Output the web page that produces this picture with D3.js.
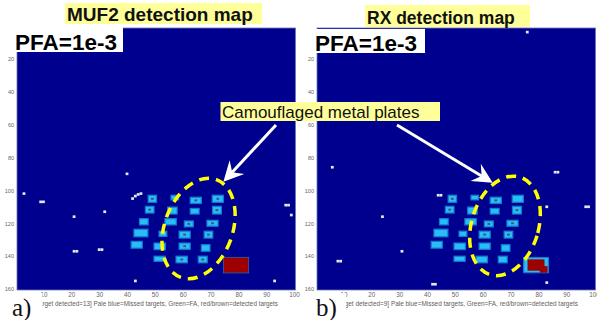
<!DOCTYPE html>
<html>
<head>
<meta charset="utf-8">
<script src="https://cdn.jsdelivr.net/npm/d3@7/dist/d3.min.js"></script>
<style>
  body { margin: 0; background: #fff; }
  svg { display: block; font-family: Arial, "Liberation Sans", sans-serif; }
</style>
</head>
<body>
<svg id="chart" width="597" height="320"></svg>
<script>
// ---- data ----
const panelLetters = ['a)', 'b)'];
const titles = ['MUF2 detection map', 'RX detection map'];
const pfaLabels = ['PFA=1e-3', 'PFA=1e-3'];
const detectedCounts = [13, 9];
const xTicks = [10, 20, 30, 40, 50, 60, 70, 80, 90, 100];
const yTicks = [20, 40, 60, 80, 100, 120, 140, 160];
const calloutText = 'Camouflaged metal plates';

// ground truth plates [col0, col1, row0, row1] (map pixel edges)
const plates = [
  [47.6, 50.6, 103, 107.3], [55.8, 58.5, 103, 105.8], [62.7, 66.7, 104.2, 108], [70.6, 74.6, 103, 107.3],
  [46.6, 49.7, 109.7, 113.8], [54.6, 58, 110.2, 114.4], [62.7, 65.9, 111, 114.4], [70.7, 73.9, 109.7, 114.4],
  [44.5, 47.6, 117.2, 121], [53.6, 57.7, 117.2, 121], [60.6, 63.8, 118.6, 122.2], [68.7, 72.7, 118.2, 121.8],
  [42.5, 47.5, 123.6, 128.2], [51.5, 54.3, 124.8, 128], [58.7, 62.7, 124.8, 129], [67.7, 70.8, 124.8, 129],
  [41.5, 45.5, 131, 135.1], [49.7, 53.8, 132, 136], [58.7, 62.7, 132, 135.8], [66.7, 69.8, 133, 137],
  [49.7, 53.7, 140, 143.1], [57.6, 61.7, 140, 144], [65.6, 68.8, 140, 144]
];
const bigTarget = [74.7, 83.6, 140.8, 150];

// plates with a detected pixel in their centre, per map
const detectedPlates = [
  [0, 2, 3, 4, 7, 10, 11, 14, 15, 18, 21, 22],
  [0, 2, 4, 7, 10, 11, 14, 15]
];
// detected (red/brown) regions of the large target
const detectedRegions = [
  [[74.7, 83.6, 140.8, 150]],
  [[76.1, 82.2, 141.9, 148.8], [80.5, 83.3, 146, 150]]
];
// false alarm pixels [col, row]
const falseAlarms = [
  [[3, 102], [9, 107], [10, 107], [21, 116], [32, 113], [21, 137], [22, 137], [30, 136], [31, 136],
   [40, 90], [42, 105], [43, 103.5], [44, 102.5], [45, 102], [43, 155], [93, 155], [97, 109], [98, 109], [99, 115]],
  [[6, 86], [86, 89], [87, 89], [44, 103], [45, 103], [83, 110], [97, 110], [98, 110], [24, 116],
   [31, 137], [8, 143], [9, 143], [42, 157], [43, 157], [83, 156], [76, 4]]
];

// ---- layout ----
const MAP_BG = '#00008e';
const PLATE_COLOR = '#27bdf6';
const PLATE_EDGE = '#1579d2';
const DETECT_COLOR = '#9c0000';
const DOT_COLOR = '#4a4f78';
const FA_COLOR = '#e6e9f0';
const TITLE_BG = '#ffff99';

const panelLeft = [17, 317];
const panelWidth = 278.5;
const plotTop = 28;
const plotBottom = 290;

const svg = d3.select('#chart');

const ellipses = [
  { c: [65.7, 123.2], rx: 34, ry: 52, angle: 20 },
  { c: [68, 121.6], rx: 33.5, ry: 51, angle: 17 }
];
const arrowTips = [[74.6, 94.8], [63.6, 95.4]];
const arrowTails = [[276, 125], [397, 125]];

const scales = [];

function drawPanel(i) {
  const x = d3.scaleLinear().domain([0.5, 100.5]).range([panelLeft[i], panelLeft[i] + panelWidth]);
  const y = d3.scaleLinear().domain([1.5, 160.5]).range([plotTop, plotBottom]);
  scales.push({ x, y });

  const g = svg.append('g');

  g.append('rect')
    .attr('x', x(0.5))
    .attr('y', y(1.5))
    .attr('width', x(100.5) - x(0.5))
    .attr('height', y(160.5) - y(1.5))
    .attr('fill', MAP_BG)
    .attr('stroke', '#6f76b4')
    .attr('stroke-width', 0.8);

  const box = (sel) => sel
    .attr('x', d => x(d[0]))
    .attr('y', d => y(d[2]))
    .attr('width', d => x(d[1]) - x(d[0]))
    .attr('height', d => y(d[3]) - y(d[2]));

  // missed targets (pale blue)
  g.selectAll('.plate')
    .data(plates.concat([bigTarget]))
    .join('rect')
    .attr('class', 'plate')
    .call(box)
    .attr('fill', PLATE_COLOR)
    .attr('stroke', PLATE_EDGE)
    .attr('stroke-width', 1.2);

  // detected parts
  g.selectAll('.det')
    .data(detectedRegions[i])
    .join('rect')
    .attr('class', 'det')
    .call(box)
    .attr('fill', DETECT_COLOR);

  g.selectAll('.dot')
    .data(detectedPlates[i].map(k => plates[k]))
    .join('rect')
    .attr('class', 'dot')
    .attr('x', d => x((d[0] + d[1]) / 2 - 0.5))
    .attr('y', d => y((d[2] + d[3]) / 2 - 0.6))
    .attr('width', d => x(1) - x(0))
    .attr('height', d => y(1.2) - y(0))
    .attr('fill', DOT_COLOR);

  // false alarms
  g.selectAll('.fa')
    .data(falseAlarms[i])
    .join('rect')
    .attr('class', 'fa')
    .attr('x', d => x(d[0] - 0.5))
    .attr('y', d => y(d[1] - 0.8))
    .attr('width', x(1) - x(0))
    .attr('height', y(1.6) - y(0))
    .attr('fill', FA_COLOR);

  // axes
  g.append('g')
    .attr('transform', `translate(${x(0.5)},0)`)
    .call(d3.axisLeft(y).tickValues(yTicks).tickSize(0).tickPadding(3))
    .call(a => a.select('.domain').remove())
    .attr('font-size', 5.5)
    .attr('font-family', 'Arial, "Liberation Sans", sans-serif')
    .attr('color', '#666');

  g.append('g')
    .attr('transform', `translate(0,${plotBottom})`)
    .call(d3.axisBottom(x).tickValues(xTicks).tickSize(0).tickPadding(3))
    .call(a => a.select('.domain').remove())
    .attr('font-size', 6.3)
    .attr('font-family', 'Arial, "Liberation Sans", sans-serif')
    .attr('color', '#666');

  g.append('text')
    .attr('x', x(0.5) + 17)
    .attr('y', 306)
    .attr('font-size', 6.3)
    .attr('textLength', 244)
    .attr('lengthAdjust', 'spacingAndGlyphs')
    .attr('fill', '#5e5e5e')
    .text(`[Target detected=${detectedCounts[i]}] Pale blue=Missed targets, Green=FA, red/brown=detected targets`);

  // panel letter on white patch
  g.append('rect')
    .attr('x', panelLeft[i] - (i === 0 ? 17 : 5))
    .attr('y', 293)
    .attr('width', i === 0 ? 42.5 : 34)
    .attr('height', 27)
    .attr('fill', '#fff');

  g.append('text')
    .attr('x', panelLeft[i] + (i === 0 ? -5 : -1))
    .attr('y', 316)
    .attr('font-family', '"Liberation Serif", "Times New Roman", serif')
    .attr('font-size', 25)
    .attr('fill', '#111')
    .text(panelLetters[i]);

  // titles
  const tb = i === 0 ? { x: 65, y: 3, w: 197, h: 21, fs: 19, base: 21 } : { x: 365, y: 5, w: 165, h: 22, fs: 17.5, base: 24 };
  g.append('rect')
    .attr('x', tb.x).attr('y', tb.y)
    .attr('width', tb.w).attr('height', tb.h)
    .attr('fill', TITLE_BG);
  g.append('text')
    .attr('x', tb.x + 2)
    .attr('y', tb.base)
    .attr('font-weight', 'bold')
    .attr('font-size', tb.fs)
    .attr('fill', '#111')
    .text(titles[i]);

  // PFA label
  const pb = i === 0 ? { x: 13, y: 27, w: 110, h: 25, base: 50 } : { x: 313, y: 29, w: 112, h: 24, base: 51 };
  g.append('rect')
    .attr('x', pb.x).attr('y', pb.y)
    .attr('width', pb.w).attr('height', pb.h)
    .attr('fill', '#fff');
  g.append('text')
    .attr('x', pb.x + 2)
    .attr('y', pb.base)
    .attr('font-weight', 'bold')
    .attr('font-size', 22.5)
    .attr('fill', '#000')
    .text(pfaLabels[i]);

  // dashed ellipse round the plates
  const e = ellipses[i];
  const cx = x(e.c[0]), cy = y(e.c[1]);
  g.append('ellipse')
    .attr('cx', cx)
    .attr('cy', cy)
    .attr('rx', e.rx)
    .attr('ry', e.ry)
    .attr('transform', `rotate(${e.angle},${cx},${cy})`)
    .attr('fill', 'none')
    .attr('stroke', '#ffff00')
    .attr('stroke-width', 3.5)
    .attr('stroke-dasharray', '10 7');
}

function drawArrow(x1, y1, x2, y2) {
  const L = 20, W = 10, notch = 7;
  const len = Math.hypot(x2 - x1, y2 - y1);
  const ux = (x2 - x1) / len, uy = (y2 - y1) / len;
  const nx = -uy, ny = ux;
  svg.append('line')
    .attr('x1', x1).attr('y1', y1)
    .attr('x2', x2 - ux * (L - notch)).attr('y2', y2 - uy * (L - notch))
    .attr('stroke', '#fff')
    .attr('stroke-width', 3);
  const pts = [
    [x2, y2],
    [x2 - ux * L + nx * W, y2 - uy * L + ny * W],
    [x2 - ux * (L - notch), y2 - uy * (L - notch)],
    [x2 - ux * L - nx * W, y2 - uy * L - ny * W]
  ];
  svg.append('polygon')
    .attr('points', pts.map(p => p.join(',')).join(' '))
    .attr('fill', '#fff');
}

drawPanel(0);
drawPanel(1);

// callout with arrows
arrowTips.forEach((t, i) => {
  drawArrow(arrowTails[i][0], arrowTails[i][1], scales[i].x(t[0]), scales[i].y(t[1]));
});

svg.append('rect')
  .attr('x', 220.5).attr('y', 102)
  .attr('width', 219.5).attr('height', 19)
  .attr('fill', TITLE_BG);
svg.append('text')
  .attr('x', 222)
  .attr('y', 117.5)
  .attr('font-size', 17)
  .attr('fill', '#111')
  .text(calloutText);
</script>
</body>
</html>
